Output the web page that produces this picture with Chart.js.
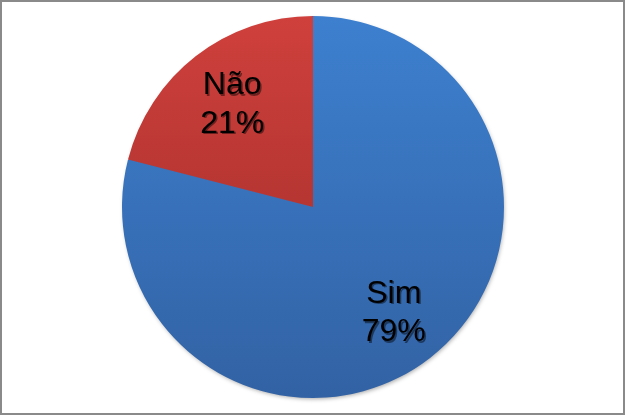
<!DOCTYPE html>
<html>
<head>
<meta charset="utf-8">
<script src="https://cdn.jsdelivr.net/npm/chart.js@4"></script>
<style>
html,body{margin:0;padding:0;background:#fff;}
#wrap{width:625px;height:415px;position:relative;}
</style>
</head>
<body>
<div id="wrap"><canvas id="c" width="625" height="415"></canvas></div>
<script>
const categories = ["Sim", "Não"];
const values = [79, 21];
const percentLabels = ["79%", "21%"];

const gradTop = ["#3d80cf", "#cf403c"];
const gradBottom = ["#3262a4", "#9c2b28"];

function makeFill(context) {
  const chart = context.chart;
  const area = chart.chartArea;
  if (!area) return gradTop[context.dataIndex];
  const g = chart.ctx.createLinearGradient(0, area.top, 0, area.bottom);
  g.addColorStop(0, gradTop[context.dataIndex]);
  g.addColorStop(1, gradBottom[context.dataIndex]);
  return g;
}

const framePlugin = {
  id: 'frame',
  beforeDraw(chart) {
    const ctx = chart.ctx;
    ctx.save();
    ctx.fillStyle = '#fff';
    ctx.fillRect(0, 0, chart.width, chart.height);
    ctx.strokeStyle = '#8a8a8a';
    ctx.lineWidth = 2;
    ctx.strokeRect(1, 1, chart.width - 2, chart.height - 2);
    ctx.restore();
  },
  beforeDatasetsDraw(chart) {
    const ctx = chart.ctx;
    ctx.save();
    ctx.shadowColor = 'rgba(0,0,0,0.35)';
    ctx.shadowBlur = 4;
    ctx.shadowOffsetX = 1;
    ctx.shadowOffsetY = 2;
    const arc = chart.getDatasetMeta(0).data[0];
    if (arc) {
      ctx.beginPath();
      ctx.arc(arc.x, arc.y, arc.outerRadius - 1, 0, Math.PI * 2);
      ctx.fillStyle = '#3a70b8';
      ctx.fill();
    }
    ctx.restore();
  },
  afterDatasetsDraw(chart) {
    const ctx = chart.ctx;
    const meta = chart.getDatasetMeta(0);
    ctx.save();
    ctx.font = '32px "Liberation Sans", Arial, sans-serif';
    ctx.textAlign = 'center';
    ctx.textBaseline = 'alphabetic';
    meta.data.forEach((arc, i) => {
      const mid = (arc.startAngle + arc.endAngle) / 2;
      const r = arc.outerRadius * 0.69;
      const x = arc.x + Math.cos(mid) * r;
      const y = arc.y + Math.sin(mid) * r;
      const lines = [categories[i], percentLabels[i]];
      const offs = [-8.5, 30];
      lines.forEach((t, k) => {
        const ly = y + offs[k];
        ctx.fillStyle = 'rgba(0,0,0,0.45)';
        ctx.fillText(t, x + 1.5, ly + 1.5);
        ctx.fillStyle = '#000';
        ctx.fillText(t, x, ly);
      });
    });
    ctx.restore();
  }
};

new Chart(document.getElementById('c'), {
  type: 'pie',
  data: {
    labels: categories,
    datasets: [{
      data: values,
      backgroundColor: makeFill,
      borderWidth: 0
    }]
  },
  options: {
    responsive: false,
    animation: false,
    layout: { padding: { top: 16, bottom: 17, left: 1, right: 0 } },
    plugins: {
      legend: { display: false },
      tooltip: { enabled: false }
    }
  },
  plugins: [framePlugin]
});
</script>
</body>
</html>
